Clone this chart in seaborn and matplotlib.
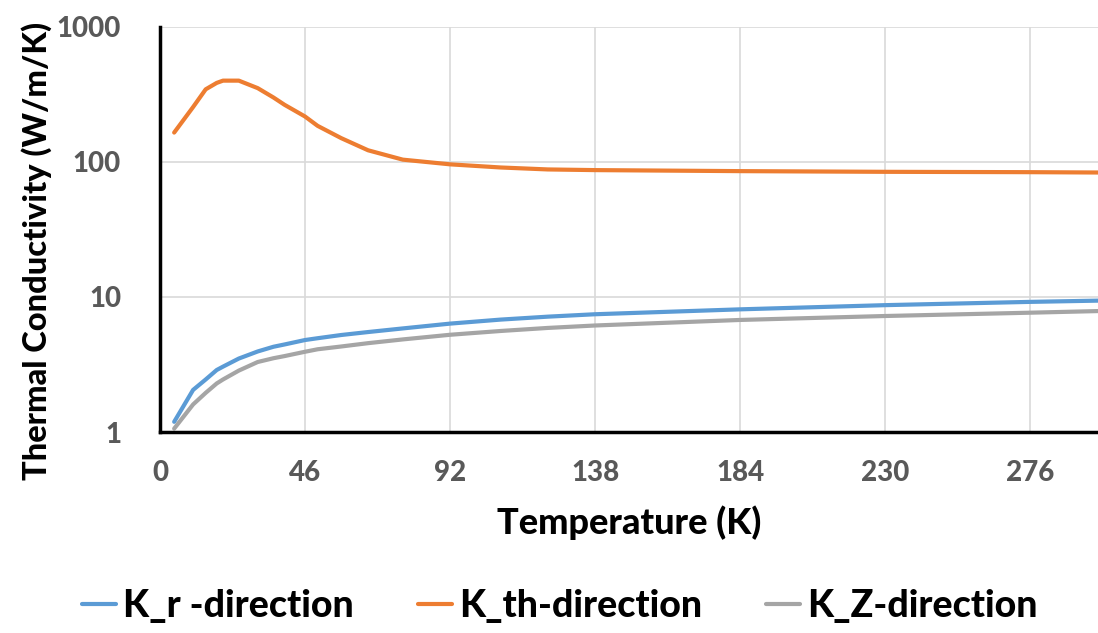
import pandas as pd
import seaborn as sns
import matplotlib.pyplot as plt

# temperature grid (K)
temperature = [4.5, 10.5, 14.5, 18, 20, 25, 31, 36, 39.5, 46, 50, 57.5, 66, 77, 92,
               108, 123, 138, 184, 230, 276, 298]

k_r = [1.19, 2.05, 2.45, 2.88, 3.05, 3.5, 3.95, 4.28, 4.45, 4.8, 4.95, 5.23, 5.5, 5.85, 6.35,
       6.8, 7.15, 7.45, 8.1, 8.7, 9.2, 9.4]
k_th = [165, 255, 345, 385, 400, 400, 352, 300, 265, 217, 185, 150, 122, 104, 96,
        91, 88, 87, 85.5, 84.5, 84, 83.5]
k_z = [1.06, 1.6, 1.95, 2.29, 2.45, 2.85, 3.3, 3.52, 3.65, 3.93, 4.1, 4.3, 4.55, 4.85, 5.25,
       5.6, 5.9, 6.15, 6.76, 7.23, 7.65, 7.87]

series_names = ["K_r -direction", "K_th-direction", "K_Z-direction"]
colors = ["#5B9BD5", "#ED7D31", "#A5A5A5"]
x_ticks = [0, 46, 92, 138, 184, 230, 276]
y_ticks = [1, 10, 100, 1000]

df = pd.DataFrame({
    "Temperature": temperature * 3,
    "K": k_r + k_th + k_z,
    "series": [series_names[0]] * len(temperature)
              + [series_names[1]] * len(temperature)
              + [series_names[2]] * len(temperature),
})

sns.set_style("white")
plt.rcParams["font.family"] = ["Lato", "DejaVu Sans"]

fig = plt.figure(figsize=(10.98, 6.33), dpi=100)
ax = fig.add_axes([0.1457, 0.3175, 0.8543, 0.64])

sns.lineplot(data=df, x="Temperature", y="K", hue="series", palette=colors,
             linewidth=3.0, ax=ax, legend=True)

ax.set_yscale("log")
ax.set_ylim(1, 1000)
ax.set_xlim(0, 297.5)
ax.set_xticks(x_ticks)
ax.set_yticks(y_ticks)
ax.set_yticklabels([str(v) for v in y_ticks])
ax.minorticks_off()
ax.grid(True, color="#D9D9D9", linewidth=1.2)
ax.set_axisbelow(True)

for s in ["top", "right"]:
    ax.spines[s].set_visible(False)
for s in ["left", "bottom"]:
    ax.spines[s].set_color("black")
    ax.spines[s].set_linewidth(2.5)

ax.tick_params(axis="x", length=0, labelsize=20, labelcolor="#595959", pad=20)
ax.tick_params(axis="y", length=0, labelsize=20, labelcolor="#595959", pad=28)
for lab in ax.get_xticklabels() + ax.get_yticklabels():
    lab.set_fontweight("black")

ax.set_xlabel("Temperature (K)", fontsize=26, fontweight="black", labelpad=14, color="black")
ax.set_ylabel("Thermal Conductivity (W/m/K)", fontsize=23.5, fontweight="black", color="black")
ax.yaxis.set_label_coords(-0.115, 0.447)

handles, labels = ax.get_legend_handles_labels()
ax.get_legend().remove()
leg = fig.legend(handles, labels, loc="lower center", bbox_to_anchor=(0.51, -0.038),
                 ncol=3, frameon=False, fontsize=27, handlelength=0.9,
                 handletextpad=0.2, columnspacing=1.7)
for t in leg.get_texts():
    t.set_fontweight("black")
    t.set_color("black")

plt.savefig("out.png", dpi=100)
plt.close()
